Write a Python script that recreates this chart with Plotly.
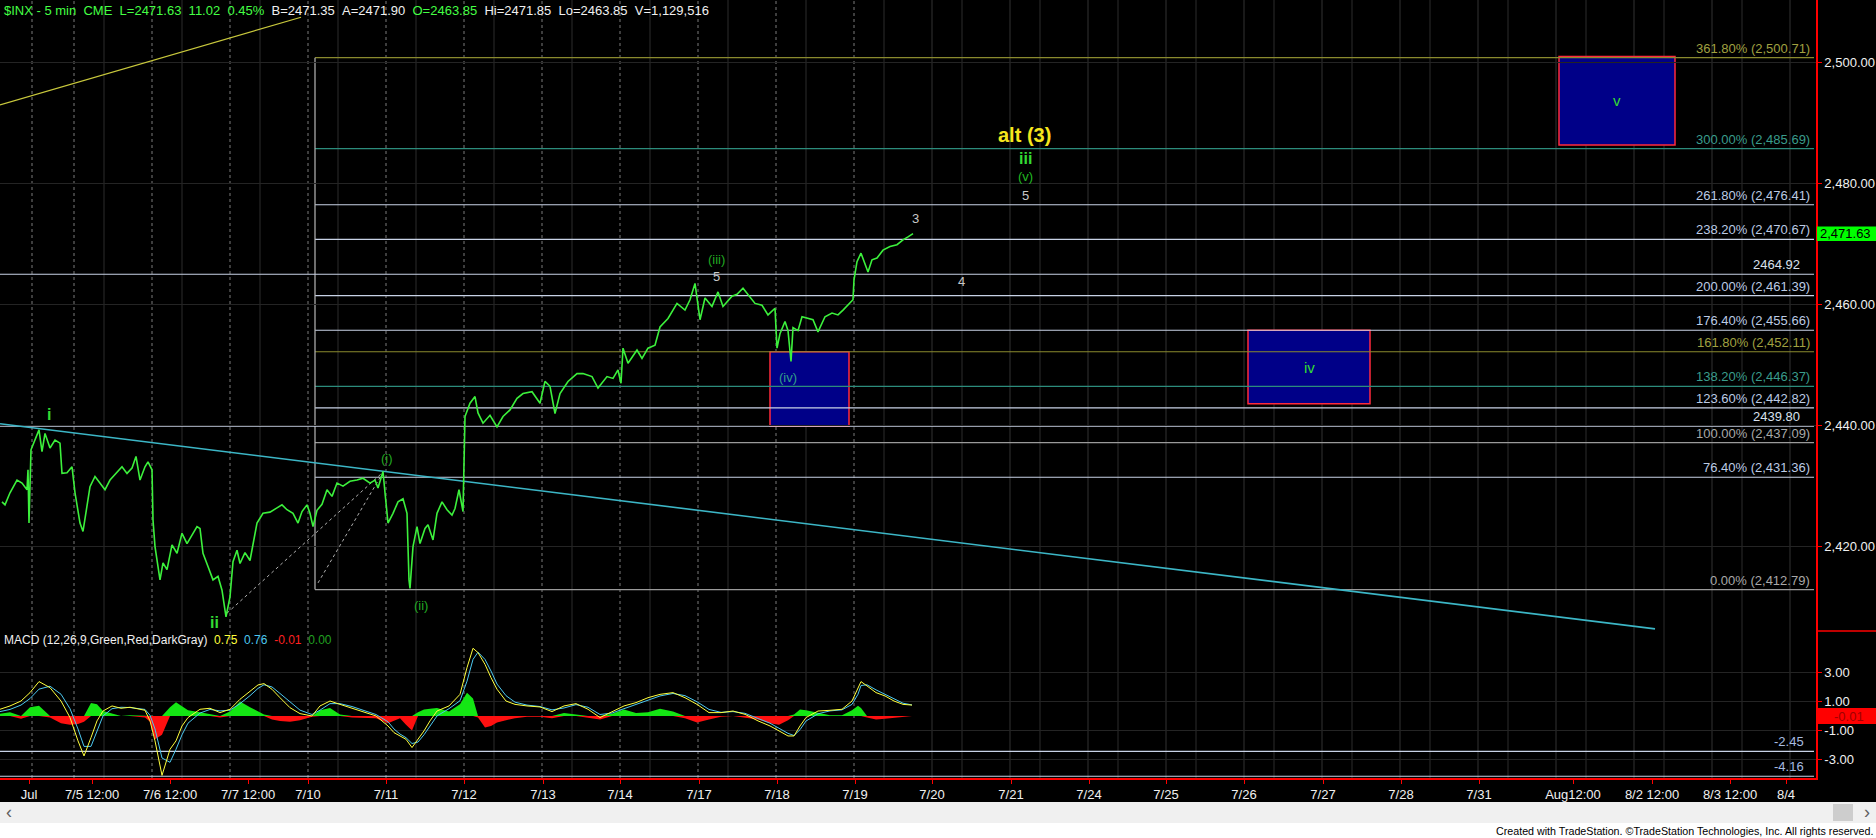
import plotly.graph_objects as go

# ---------------- data ----------------
# x values are 5-minute bar numbers counted from the 7/10 09:30 open (78 bars per session)
price_bar = [-306, -303, -298, -291, -286, -281, -280, -279, -277, -273,
             -269, -266, -263, -258, -253, -248, -246, -241, -236, -233,
             -228, -225, -221, -218, -213, -208, -203, -198, -191, -186,
             -181, -176, -172, -168, -163, -160, -156, -155, -153, -148,
             -145, -141, -136, -131, -126, -121, -116, -111, -108, -105,
             -100, -95, -90, -86, -82, -78, -75, -71, -68, -63,
             -58, -55, -51, -45, -38, -31, -26, -21, -15, -10,
             -6, -1, 2, 5, 9, 14, 19, 24, 29, 35,
             42, 49, 55, 62, 67, 70, 75, 77, 80, 85,
             90, 95, 99, 101, 102, 105, 109, 112, 117, 120,
             125, 129, 134, 139, 144, 147, 151, 155, 156, 157,
             162, 167, 170, 175, 182, 189, 195, 202, 209, 215,
             224, 232, 237, 242, 247, 252, 260, 269, 275, 284,
             290, 299, 305, 310, 313, 315, 320, 329, 334, 340,
             347, 352, 360, 369, 377, 382, 387, 392, 397, 404,
             410, 415, 424, 429, 435, 440, 447, 454, 460, 467,
             469, 472, 477, 480, 483, 485, 490, 494, 500, 505,
             510, 517, 524, 530, 535, 540, 545, 546, 549, 553,
             557, 560, 564, 569, 575, 582, 589, 595, 600, 605]
price_close = [2427.3, 2426.8, 2428.8, 2430.9, 2430.4, 2429.3, 2432.6, 2423.8, 2435.9, 2437.5,
               2439.2, 2435.6, 2438.6, 2436.2, 2437.5, 2437.0, 2432.0, 2432.1, 2433.1, 2428.8,
               2423.8, 2422.4, 2426.5, 2429.8, 2431.5, 2430.4, 2429.3, 2430.9, 2432.1, 2433.1,
               2432.0, 2432.9, 2434.8, 2430.9, 2433.1, 2433.9, 2432.6, 2424.3, 2419.9, 2414.4,
               2417.2, 2416.1, 2420.2, 2418.8, 2422.1, 2420.4, 2421.8, 2423.2, 2422.9, 2418.8,
               2416.6, 2414.4, 2415.0, 2412.7, 2408.3, 2411.6, 2417.4, 2419.3, 2417.1, 2418.9,
               2417.6, 2420.5, 2423.8, 2425.4, 2425.6, 2426.3, 2426.8, 2426.0, 2425.4, 2423.8,
               2425.7, 2426.8, 2425.4, 2423.2, 2425.9, 2426.9, 2429.3, 2428.2, 2430.4, 2429.9,
               2430.7, 2430.9, 2431.2, 2430.4, 2430.9, 2429.6, 2432.3, 2428.8, 2423.8, 2425.4,
               2427.3, 2427.8, 2425.4, 2414.4, 2413.0, 2419.9, 2423.2, 2420.4, 2422.9, 2423.5,
               2421.0, 2425.4, 2427.3, 2426.0, 2425.1, 2426.2, 2429.3, 2425.7, 2435.9, 2441.4,
               2443.6, 2444.7, 2442.0, 2440.3, 2441.6, 2439.7, 2441.4, 2442.5, 2444.4, 2445.2,
               2445.5, 2443.6, 2447.2, 2446.4, 2441.9, 2445.2, 2447.2, 2448.5, 2448.5, 2448.0,
               2446.1, 2448.0, 2447.7, 2449.1, 2446.9, 2452.7, 2450.2, 2452.4, 2451.0, 2452.7,
               2453.2, 2456.2, 2457.6, 2460.1, 2459.0, 2460.7, 2463.4, 2457.4, 2461.0, 2459.6,
               2462.0, 2459.6, 2461.3, 2461.6, 2462.6, 2461.6, 2460.1, 2459.8, 2458.2, 2459.3,
               2452.7, 2455.1, 2457.1, 2455.6, 2450.5, 2456.1, 2455.6, 2457.9, 2457.6, 2457.4,
               2455.4, 2457.9, 2458.5, 2458.2, 2459.0, 2459.8, 2460.7, 2464.0, 2467.0, 2468.4,
               2466.5, 2465.3, 2467.3, 2467.6, 2468.9, 2469.5, 2469.8, 2470.6, 2471.1, 2471.63]

macd_bar = [-308, -298, -287, -278, -269, -258, -247, -238, -230, -224,
            -217, -211, -205, -196, -187, -178, -163, -158, -153, -146,
            -138, -132, -126, -120, -108, -98, -88, -78, -68, -58,
            -50, -44, -36, -28, -18, -8, 4, 12, 22, 32,
            44, 56, 68, 80, 86, 92, 98, 104, 110, 116,
            122, 129, 141, 152, 159, 165, 170, 177, 183, 189,
            198, 207, 219, 232, 244, 256, 268, 280, 292, 304,
            316, 328, 340, 352, 365, 377, 389, 401, 413, 425,
            437, 450, 462, 471, 480, 486, 492, 498, 510, 522,
            534, 544, 550, 553, 559, 568, 577, 586, 595, 604]
macd_line = [0.46, 0.69, 1.03, 1.61, 2.37, 1.95, 1.03, -0.11, -1.72, -2.76,
             -1.49, -0.34, 0.34, 0.69, 0.53, 0.60, 0.39, -0.34, -1.72, -4.10,
             -2.30, -1.72, -0.69, -0.11, 0.46, 0.53, 0.23, 0.46, 1.15, 1.72,
             2.14, 2.23, 1.84, 1.26, 0.57, 0.16, 0.00, 0.69, 1.03, 0.80,
             0.53, 0.30, 0.00, -0.69, -1.15, -1.38, -1.61, -2.18, -1.61, -1.03,
             -0.34, 0.34, 0.69, 1.49, 3.33, 4.67, 4.37, 3.56, 2.64, 1.84,
             1.03, 0.80, 0.69, 0.62, 0.30, 0.69, 0.85, 0.46, -0.11, 0.30,
             0.69, 0.92, 1.26, 1.49, 1.61, 1.26, 0.80, 0.23, 0.23, 0.34,
             0.11, -0.34, -0.69, -1.03, -1.38, -1.38, -0.69, -0.11, 0.34, 0.39,
             0.46, 1.03, 1.95, 2.37, 2.07, 1.61, 1.38, 1.03, 0.80, 0.75]
macd_signal = [0.30, 0.45, 0.75, 1.20, 1.85, 2.05, 1.50, 0.50, -0.90, -2.10,
               -2.10, -1.00, 0.00, 0.50, 0.60, 0.58, 0.45, 0.05, -0.90, -2.90,
               -3.20, -2.30, -1.30, -0.50, 0.20, 0.45, 0.35, 0.40, 0.85, 1.40,
               1.90, 2.15, 2.00, 1.55, 0.95, 0.40, 0.10, 0.40, 0.85, 0.85,
               0.65, 0.40, 0.10, -0.40, -0.90, -1.25, -1.50, -1.90, -1.80, -1.30,
               -0.70, 0.00, 0.50, 1.05, 2.40, 3.90, 4.40, 3.90, 3.10, 2.20,
               1.40, 0.95, 0.75, 0.65, 0.42, 0.55, 0.78, 0.60, 0.10, 0.20,
               0.50, 0.80, 1.10, 1.38, 1.55, 1.40, 0.98, 0.45, 0.25, 0.30,
               0.18, -0.15, -0.50, -0.85, -1.20, -1.35, -0.95, -0.35, 0.15, 0.35,
               0.42, 0.80, 1.50, 2.10, 2.15, 1.80, 1.50, 1.15, 0.88, 0.76]
macd_hist = [0.15, 0.25, -0.20, 0.60, 0.70, -0.10, -0.50, -0.60, -0.55, -0.40,
             0.90, 0.80, 0.35, 0.20, -0.05, 0.05, -0.10, -0.40, -1.60, -1.30,
             0.60, 0.95, 0.70, 0.40, 0.25, 0.10, -0.10, 0.30, 1.00, 0.60,
             0.30, 0.10, -0.25, -0.35, -0.40, -0.30, -0.05, 0.40, 0.55, 0.10,
             -0.10, -0.10, -0.15, -0.50, -0.30, -0.15, -0.60, -1.00, 0.25, 0.45,
             0.50, 0.55, 0.30, 0.80, 1.60, 1.20, -0.10, -0.80, -0.70, -0.45,
             -0.30, -0.15, -0.05, -0.05, -0.15, 0.20, 0.10, -0.15, -0.25, 0.15,
             0.45, 0.20, 0.25, 0.50, 0.30, -0.15, -0.45, -0.25, -0.05, 0.05,
             -0.10, -0.25, -0.50, -0.60, -0.30, 0.10, 0.45, 0.40, 0.25, 0.05,
             0.05, 0.40, 0.70, 0.55, -0.10, -0.25, -0.20, -0.15, -0.10, -0.01]

fib_pct = [361.8, 300.0, 261.8, 238.2, 200.0, 176.4, 161.8, 138.2, 123.6, 100.0, 76.4, 0.0]
fib_price = [2500.71, 2485.69, 2476.41, 2470.67, 2461.39, 2455.66, 2452.11, 2446.37,
             2442.82, 2437.09, 2431.36, 2412.79]
fib_start_bar = 7
fib_end_bar = 1506

level_price = [2464.92, 2439.80]
macd_level = [-2.45, -4.16]

trend_bar = [-308, 1347]
trend_price = [2440.2, 2406.3]
yellow_bar = [-308, -7]
yellow_price = [2492.9, 2507.4]
dotted1_bar = [-81, 75]
dotted1_price = [2408.9, 2432.2]
dotted2_bar = [10, 73]
dotted2_price = [2413.9, 2431.6]

box_label = ["(iv)", "iv", "v"]
box_bar0 = [462, 940, 1251]
box_bar1 = [541, 1062, 1367]
box_low = [2439.80, 2443.5, 2486.3]
box_high = [2452.11, 2455.66, 2500.9]

session_open = [-276, -234, -156, -78, 0, 78, 156, 234, 312, 390, 468, 546,
                624, 702, 780, 858, 936, 1014, 1092, 1170, 1248, 1326, 1404, 1482]
session_noon = [-204, -126, -48, 30, 108, 186, 264, 342, 420, 498, 576,
                654, 732, 810, 888, 966, 1044, 1122, 1200, 1278, 1356, 1434]

tick_text = ["Jul", "7/5 12:00", "7/6 12:00", "7/7 12:00", "7/10", "7/11", "7/12", "7/13",
             "7/14", "7/17", "7/18", "7/19", "7/20", "7/21", "7/24", "7/25", "7/26", "7/27",
             "7/28", "7/31", "Aug12:00", "8/2 12:00", "8/3 12:00", "8/4"]
tick_bar = [-279, -216, -138, -60, 0, 78, 156, 235, 312, 391, 469, 547, 624, 703, 781,
            858, 936, 1015, 1093, 1171, 1265, 1344, 1422, 1478]

price_ticks = [2420, 2440, 2460, 2480, 2500]
macd_ticks = [3, 1, -1, -3]

last_price = 2471.63
macd_last = [0.75, 0.76, -0.01, 0.00]

# ---------------- layout geometry (pixels) ----------------
W, H = 1876, 838
PLOT_R = 1816
MAIN_BOTTOM = 631
MACD_BOTTOM = 778
FONT = "Liberation Sans, Arial, sans-serif"


def px(xp):
    return xp / W


def py(yp):
    return 1 - yp / H


fig = go.Figure()

# histogram (filled)
hist_pos = [h if h > 0 else 0 for h in macd_hist]
hist_neg = [h if h < 0 else 0 for h in macd_hist]
fig.add_trace(go.Scatter(x=macd_bar, y=hist_pos, mode="lines", line=dict(width=0),
                         fill="tozeroy", fillcolor="#14e614", xaxis="x", yaxis="y2",
                         hoverinfo="skip"))
fig.add_trace(go.Scatter(x=macd_bar, y=hist_neg, mode="lines", line=dict(width=0),
                         fill="tozeroy", fillcolor="#ff1010", xaxis="x", yaxis="y2",
                         hoverinfo="skip"))
fig.add_trace(go.Scatter(x=macd_bar, y=macd_signal, mode="lines",
                         line=dict(color="#4cc8f0", width=1), xaxis="x", yaxis="y2"))
fig.add_trace(go.Scatter(x=macd_bar, y=macd_line, mode="lines",
                         line=dict(color="#ffff3c", width=1), xaxis="x", yaxis="y2"))

# price and drawn lines
fig.add_trace(go.Scatter(x=trend_bar, y=trend_price, mode="lines",
                         line=dict(color="#3cb6c6", width=1.6), xaxis="x", yaxis="y"))
fig.add_trace(go.Scatter(x=yellow_bar, y=yellow_price, mode="lines",
                         line=dict(color="#c8c83c", width=1.2), xaxis="x", yaxis="y"))
for bx, by in ((dotted1_bar, dotted1_price), (dotted2_bar, dotted2_price)):
    fig.add_trace(go.Scatter(x=bx, y=by, mode="lines",
                             line=dict(color="#b0b0b0", width=1, dash="dot"),
                             xaxis="x", yaxis="y"))
fig.add_trace(go.Scatter(x=price_bar, y=price_close, mode="lines",
                         line=dict(color="#3cf03c", width=1.6), xaxis="x", yaxis="y"))

shapes = []
grid_y0 = py(MACD_BOTTOM)
# vertical grid
for b in session_noon:
    shapes.append(dict(type="line", xref="x", yref="paper", x0=b, x1=b, y0=grid_y0, y1=1,
                       line=dict(color="#2c2c2c", width=1), layer="below"))
for b in session_open:
    if b <= 546:
        shapes.append(dict(type="line", xref="x", yref="paper", x0=b, x1=b, y0=grid_y0, y1=1,
                           line=dict(color="#7a7a7a", width=1, dash="3px,3px"), layer="below"))
    else:
        shapes.append(dict(type="line", xref="x", yref="paper", x0=b, x1=b, y0=grid_y0, y1=1,
                           line=dict(color="#333333", width=1), layer="below"))

# target boxes
for lab, b0, b1, lo, hi in zip(box_label, box_bar0, box_bar1, box_low, box_high):
    shapes.append(dict(type="rect", xref="x", yref="y", x0=b0, x1=b1, y0=lo, y1=hi,
                       fillcolor="#000088", line=dict(color="#ff2a3c", width=1.5), layer="below"))

# fibonacci levels
fib_style = {361.8: "#8a8a2e", 300.0: "#2c8c7c", 161.8: "#8a8a2e", 138.2: "#2c8c7c",
             100.0: "#9a9a9a", 0.0: "#9a9a9a"}
fib_text_style = {361.8: "#a0a040", 300.0: "#3a9c8c", 161.8: "#a0a040", 138.2: "#3a9c8c",
                  100.0: "#a8a8a8", 0.0: "#a8a8a8"}
annotations = []
for pct, pr in zip(fib_pct, fib_price):
    col = fib_style.get(pct, "#c8d2e6")
    tcol = fib_text_style.get(pct, "#bccbe4")
    shapes.append(dict(type="line", xref="x", yref="y", x0=fib_start_bar, x1=fib_end_bar,
                       y0=pr, y1=pr, line=dict(color=col, width=1.2), layer="below"))
    annotations.append(dict(x=fib_end_bar - 2, y=pr, xref="x", yref="y", xanchor="right",
                            yanchor="bottom", yshift=0, showarrow=False,
                            text=f"{pct:.2f}% ({pr:,.2f})",
                            font=dict(family=FONT, size=13, color=tcol)))
# fib box left edge
shapes.append(dict(type="line", xref="x", yref="y", x0=fib_start_bar, x1=fib_start_bar,
                   y0=fib_price[-1], y1=fib_price[0], line=dict(color="#b8b8b8", width=1.2),
                   layer="below"))
# full-width levels
for pr in level_price:
    shapes.append(dict(type="line", xref="x", yref="y", x0=-308, x1=fib_end_bar, y0=pr, y1=pr,
                       line=dict(color="#c8d2e6", width=1.2), layer="below"))
    annotations.append(dict(x=fib_end_bar - 12, y=pr, xref="x", yref="y", xanchor="right",
                            yanchor="bottom", showarrow=False, text=f"{pr:.2f}",
                            font=dict(family=FONT, size=13, color="#d8e0ee")))
for lv in macd_level:
    shapes.append(dict(type="line", xref="x", yref="y2", x0=-308, x1=fib_end_bar, y0=lv, y1=lv,
                       line=dict(color="#c8d2e6", width=1.2), layer="below"))
    annotations.append(dict(x=fib_end_bar - 8, y=lv, xref="x", yref="y2", xanchor="right",
                            yanchor="bottom", showarrow=False, text=f"{lv:.2f}",
                            font=dict(family=FONT, size=13, color="#a8bce0")))

# last price badges
shapes.append(dict(type="rect", xref="paper", yref="y", x0=px(PLOT_R + 1), x1=1,
                   y0=last_price - 1.2, y1=last_price + 1.2, fillcolor="#00ff00",
                   line=dict(width=0), layer="above"))
annotations.append(dict(x=px(PLOT_R + 2), y=last_price, xref="paper", yref="y", xanchor="left",
                        yanchor="middle", showarrow=False, text=f"{last_price:,.2f}",
                        font=dict(family=FONT, size=13, color="#000000")))
shapes.append(dict(type="rect", xref="paper", yref="y2", x0=px(PLOT_R + 1), x1=1,
                   y0=macd_last[2] - 0.55, y1=macd_last[2] + 0.55, fillcolor="#ff0000",
                   line=dict(width=0), layer="above"))
annotations.append(dict(x=px(PLOT_R + 16), y=macd_last[2], xref="paper", yref="y2",
                        xanchor="left", yanchor="middle", showarrow=False,
                        text=f"{macd_last[2]:.2f}",
                        font=dict(family=FONT, size=13, color="#a00000")))
# red separator on the axis strip
shapes.append(dict(type="line", xref="paper", yref="paper", x0=px(PLOT_R), x1=1,
                   y0=py(MAIN_BOTTOM), y1=py(MAIN_BOTTOM), line=dict(color="#ff0000", width=1.5)))

# scrollbar and footer
shapes.append(dict(type="rect", xref="paper", yref="paper", x0=0, x1=1, y0=0, y1=py(802),
                   fillcolor="#ffffff", line=dict(width=0)))
shapes.append(dict(type="rect", xref="paper", yref="paper", x0=0, x1=1, y0=py(823), y1=py(802),
                   fillcolor="#f0f0f0", line=dict(width=0)))
shapes.append(dict(type="rect", xref="paper", yref="paper", x0=px(1833), x1=px(1853),
                   y0=py(821), y1=py(804), fillcolor="#cdcdcd", line=dict(width=0)))
annotations.append(dict(x=px(4), y=py(812), xref="paper", yref="paper", xanchor="left",
                        yanchor="middle", showarrow=False, text="‹",
                        font=dict(family=FONT, size=18, color="#606060")))
annotations.append(dict(x=px(1872), y=py(812), xref="paper", yref="paper", xanchor="right",
                        yanchor="middle", showarrow=False, text="›",
                        font=dict(family=FONT, size=18, color="#606060")))
annotations.append(dict(x=px(1875), y=py(831), xref="paper", yref="paper", xanchor="right",
                        yanchor="middle", showarrow=False,
                        text="Created with TradeStation. ©TradeStation Technologies, Inc. All rights reserved.",
                        font=dict(family="Liberation Sans Narrow, Arial Narrow, " + FONT, size=10.7,
                                  color="#000000")))

# header
nb = "\u00a0"
G, Wt = "#44ff44", "#f0f0f0"
header = (f"<span style='color:{G}'>$INX - 5 min{nb*2}CME{nb*2}L=2471.63{nb*2}11.02{nb*2}0.45%</span>{nb*2}"
          f"<span style='color:{Wt}'>B=2471.35{nb*2}A=2471.90</span>{nb*2}"
          f"<span style='color:{G}'>O=2463.85</span>{nb*2}"
          f"<span style='color:{Wt}'>Hi=2471.85{nb*2}Lo=2463.85{nb*2}V=1,129,516</span>")
annotations.append(dict(x=px(2), y=py(1), xref="paper", yref="paper", xanchor="left",
                        yanchor="top", showarrow=False, text=header,
                        font=dict(family=FONT, size=13, color=G)))
macd_title = (f"<span style='color:#f0f0f0'>MACD (12,26,9,Green,Red,DarkGray)</span>{nb*2}"
              f"<span style='color:#ffff3c'>{macd_last[0]:.2f}</span>{nb*2}"
              f"<span style='color:#4cc8f0'>{macd_last[1]:.2f}</span>{nb*2}"
              f"<span style='color:#ff2020'>{macd_last[2]:.2f}</span>{nb*2}"
              f"<span style='color:#20a020'>{macd_last[3]:.2f}</span>")
annotations.append(dict(x=px(2), y=py(640), xref="paper", yref="paper", xanchor="left",
                        yanchor="middle", showarrow=False, text=macd_title,
                        font=dict(family=FONT, size=12, color="#f0f0f0")))

# wave labels
wave_text = ["i", "ii", "(i)", "(ii)", "(iii)", "5", "(iv)", "3", "4", "5", "(v)", "iii", "alt (3)"]
wave_bar = [-259, -94, 79, 113, 408, 408, 480, 607, 653, 717, 717, 717, 716]
wave_price = [2441.8, 2407.4, 2434.4, 2410.2, 2467.3, 2464.5, 2447.9, 2474.2, 2463.8,
              2477.9, 2481.0, 2484.1, 2487.9]
wave_style = {
    "i": ("#33dd33", 16, True), "ii": ("#33dd33", 16, True),
    "(i)": ("#22aa22", 13, False), "(ii)": ("#22aa22", 13, False),
    "(iii)": ("#22aa22", 13, False), "(iv)": ("#33a08a", 13, False),
    "3": ("#c8c8c8", 13, False), "4": ("#c8c8c8", 13, False), "5": ("#c8c8c8", 13, False),
    "(v)": ("#22bb22", 13, False), "iii": ("#33dd33", 16, True),
    "alt (3)": ("#f5e61e", 20, True),
}
for t, b, p in zip(wave_text, wave_bar, wave_price):
    col, size, bold = wave_style[t]
    annotations.append(dict(x=b, y=p, xref="x", yref="y", showarrow=False,
                            text=f"<b>{t}</b>" if bold else t,
                            font=dict(family=FONT, size=size, color=col)))
for lab, b0, b1, lo, hi in zip(box_label, box_bar0, box_bar1, box_low, box_high):
    if lab == "(iv)":
        continue
    annotations.append(dict(x=(b0 + b1) / 2, y=(lo + hi) / 2, xref="x", yref="y",
                            showarrow=False, text=lab,
                            font=dict(family=FONT, size=15, color="#33dd33")))

fig.update_layout(
    width=W, height=H,
    margin=dict(l=0, r=0, t=0, b=0),
    paper_bgcolor="#000000", plot_bgcolor="rgba(0,0,0,0)",
    template="none", showlegend=False,
    xaxis=dict(domain=[0, px(PLOT_R)], range=[-308, PLOT_R - 308], anchor="y2",
               tickmode="array", tickvals=tick_bar, ticktext=tick_text,
               ticks="outside", ticklen=4, tickcolor="#ff0000",
               tickfont=dict(family=FONT, size=13, color="#f0f0f0"),
               showline=True, linecolor="#ff0000", linewidth=1.5,
               showgrid=False, zeroline=False, automargin=False, fixedrange=True),
    yaxis=dict(domain=[py(MAIN_BOTTOM), 1], range=[2405.95, 2510.25], side="right",
               anchor="x", tickmode="array", tickvals=price_ticks,
               ticktext=[f"{v:,.2f}" for v in price_ticks],
               ticks="outside", ticklen=4, tickcolor="#ff0000",
               tickfont=dict(family=FONT, size=13, color="#f0f0f0"),
               showline=True, linecolor="#ff0000", linewidth=1.5,
               showgrid=True, gridcolor="#242424", zeroline=False, automargin=False),
    yaxis2=dict(domain=[py(MACD_BOTTOM), py(MAIN_BOTTOM)], range=[-4.28, 5.86], side="right",
                anchor="x", tickmode="array", tickvals=macd_ticks,
                ticktext=[f"{v:.2f}" for v in macd_ticks],
                ticks="outside", ticklen=4, tickcolor="#ff0000",
                tickfont=dict(family=FONT, size=13, color="#f0f0f0"),
                showline=True, linecolor="#ff0000", linewidth=1.5,
                showgrid=True, gridcolor="#242424", zeroline=False, automargin=False),
    shapes=shapes,
    annotations=annotations,
    hovermode=False,
)

fig.write_html("out.html", config={"displayModeBar": False},
               post_script="document.body.style.margin='0';document.body.style.overflow='hidden';")
